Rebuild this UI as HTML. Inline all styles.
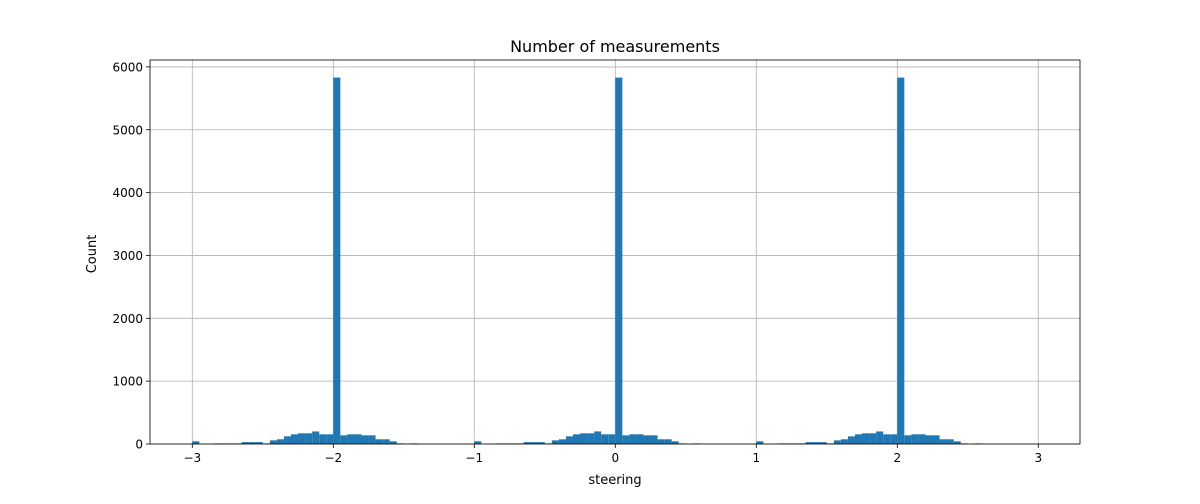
<!DOCTYPE html>
<html><head><meta charset="utf-8"><style>
body{margin:0;background:#fff;font-family:"Liberation Sans","DejaVu Sans",sans-serif;}
</style></head><body>
<svg id="chart" width="1200" height="499" xmlns="http://www.w3.org/2000/svg" style="font-family:'DejaVu Sans','Liberation Sans',sans-serif">
<rect width="1200" height="499" fill="#fff"/>
<g id="grid"></g>
<g id="bars"></g>
<g id="axes"></g>
<text x="615" y="52" text-anchor="middle" font-size="16">Number of measurements</text>
<text x="615" y="484" text-anchor="middle" font-size="13">steering</text>
<text transform="translate(96,254) rotate(-90)" text-anchor="middle" font-size="13">Count</text>
</svg>
<script>
const binStart = -3;
const binWidth = 0.05;
const counts = [
43,0,0,10,10,10,10,30,30,30,10,58,75,122,154,170,170,200,154,154,5830,138,154,154,138,138,75,75,43,10,0,10,0,0,0,0,0,0,0,0,
43,0,0,10,10,10,10,30,30,30,10,58,75,122,154,170,170,200,154,154,5830,138,154,154,138,138,75,75,43,10,0,10,0,0,0,0,0,0,0,0,
43,0,0,10,10,10,10,30,30,30,10,58,75,122,154,170,170,200,154,154,5830,138,154,154,138,138,75,75,43,10,0,10];
const xTicks = [-3,-2,-1,0,1,2,3];
const xTickLabels = ["\u22123","\u22122","\u22121","0","1","2","3"];
const yTicks = [0,1000,2000,3000,4000,5000,6000];

const L=150,R=1080,T=60,B=444;
const xmin=-3.3,xmax=3.296,ymax=6110;
const sx=v=>L+(v-xmin)/(xmax-xmin)*(R-L);
const sy=v=>B-v/ymax*(B-T);
const NS="http://www.w3.org/2000/svg";
function mk(tag,attrs,parent){const e=document.createElementNS(NS,tag);for(const k in attrs)e.setAttribute(k,attrs[k]);parent.appendChild(e);return e;}
const grid=document.getElementById('grid'),bars=document.getElementById('bars'),axes=document.getElementById('axes');
xTicks.forEach((t,i)=>{
  const x=sx(t);
  const g=mk('line',{x1:x,x2:x,y1:T,y2:B,stroke:'#b0b0b0','stroke-width':0.8},grid);
  
  
  mk('line',{x1:x,x2:x,y1:B,y2:B+4,stroke:'#000','stroke-width':0.8},axes);
  const tx=mk('text',{x:x,y:B+18,'text-anchor':'middle','font-size':12},axes);
  tx.textContent=xTickLabels[i];
  
  
});
yTicks.forEach(t=>{
  const y=sy(t);
  const g=mk('line',{x1:L,x2:R,y1:y,y2:y,stroke:'#b0b0b0','stroke-width':0.8},grid);
  
  
  mk('line',{x1:L-4,x2:L,y1:y,y2:y,stroke:'#000','stroke-width':0.8},axes);
  const tx=mk('text',{x:L-7,y:y+4.5,'text-anchor':'end','font-size':12},axes);
  tx.textContent=String(t);
  
  
});
counts.forEach((c,i)=>{
  if(c<=0)return;
  const x0=sx(binStart+i*binWidth),x1=sx(binStart+(i+1)*binWidth);
  const r=mk('rect',{x:x0,y:sy(c),width:x1-x0,height:B-sy(c),fill:'#1f77b4'},bars);
  
  
});
const fr=mk('rect',{x:L,y:T,width:R-L,height:B-T,fill:'none',stroke:'#000','stroke-width':0.8},axes);


</script>
</body></html>
